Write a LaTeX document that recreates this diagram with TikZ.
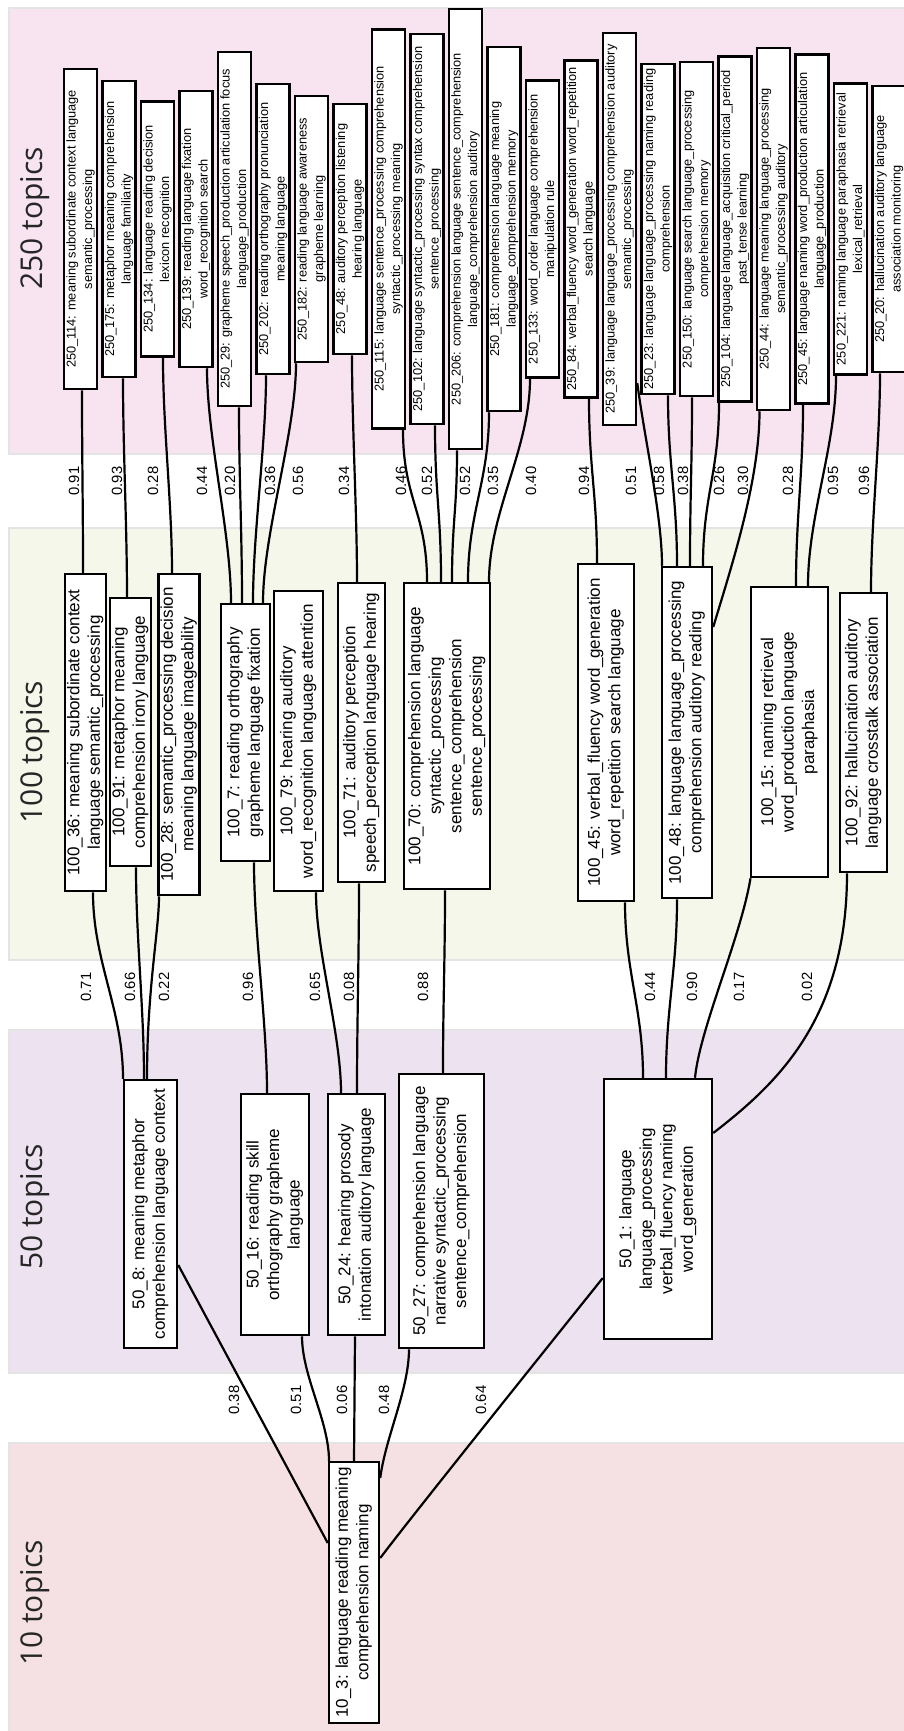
\documentclass[tikz,border=0pt]{standalone}
\usepackage{fontspec}
\setmainfont{Liberation Sans}
\newfontfamily\bandfont{Open Sans}
\usepackage{graphicx}
\usetikzlibrary{calc}
\newcommand{\rlines}[1]{\rotatebox{90}{\begin{tabular}{@{}c@{}}#1\end{tabular}}}
\definecolor{bandA}{RGB}{248,228,240}
\definecolor{bandB}{RGB}{244,247,234}
\definecolor{bandC}{RGB}{237,226,240}
\definecolor{bandD}{RGB}{245,225,228}
\definecolor{bandline}{RGB}{228,228,228}
\begin{document}
\begin{tikzpicture}[x=1pt,y=-1pt,
  box/.style={draw=black, fill=white, line width=2.5pt, inner sep=0pt, rectangle},
  t250/.style={box, minimum width=30pt, font=\fontsize{12.8}{16.5}\selectfont},
  t100/.style={box, font=\fontsize{17}{20.5}\selectfont},
  edge/.style={draw=black, line width=2.2pt},
  elabel/.style={rotate=90, font=\fontsize{14.8}{16}\selectfont, inner sep=0pt},
  bandlabel/.style={rotate=90, anchor=base, font=\bandfont\fontsize{30}{34}\selectfont, text=black!85},
  band/.style={draw=bandline, line width=2.5pt}
]
\useasboundingbox (0,0) rectangle (904,1731);
\clip (0,0) rectangle (904,1731);
\fill[white] (0,0) rectangle (904,1731);
% bands
\filldraw[band, fill=bandA] (9,8) rectangle (915,454);
\filldraw[band, fill=bandB] (9,528) rectangle (915,960);
\filldraw[band, fill=bandC] (9,1030) rectangle (915,1373);
\filldraw[band, fill=bandD] (9,1443) rectangle (915,1740);
\node[bandlabel] (L250) at (42,218.5) {250 topics};
\node[bandlabel] (L100) at (42,752) {100 topics};
\node[bandlabel] (L50) at (42,1207) {50 topics};
\node[bandlabel] (L10) at (42,1603) {10 topics};

% 250 level
\node[t250, minimum height=320pt] (a114) at (80.5,229) {\rlines{250\_114: meaning subordinate context language\\semantic\_processing}};
\node[t250, minimum height=296pt] (a175) at (119,229) {\rlines{250\_175: metaphor meaning comprehension\\language familiarity}};
\node[t250, minimum height=255pt] (a134) at (157.5,229) {\rlines{250\_134: language reading decision\\lexicon recognition}};
\node[t250, minimum height=276pt] (a139) at (196,229) {\rlines{250\_139: reading language fixation\\word\_recognition search}};
\node[t250, minimum height=354pt] (a29) at (234.5,229) {\rlines{250\_29: grapheme speech\_production articulation focus\\language\_production}};
\node[t250, minimum height=290pt] (a202) at (273,229) {\rlines{250\_202: reading orthography pronunciation\\meaning language}};
\node[t250, minimum height=266pt] (a182) at (311.5,229) {\rlines{250\_182: reading language awareness\\grapheme learning}};
\node[t250, minimum height=250pt] (a48) at (350,229) {\rlines{250\_48: auditory perception listening\\hearing language}};
\node[t250, minimum height=399pt] (a115) at (388.5,229) {\rlines{250\_115: language sentence\_processing comprehension\\syntactic\_processing meaning}};
\node[t250, minimum height=390pt] (a102) at (427,229) {\rlines{250\_102: language syntactic\_processing syntax comprehension\\sentence\_processing}};
\node[t250, minimum height=440pt] (a206) at (465.5,229) {\rlines{250\_206: comprehension language sentence\_comprehension\\language\_comprehension auditory}};
\node[t250, minimum height=364pt] (a181) at (504,229) {\rlines{250\_181: comprehension language meaning\\language\_comprehension memory}};
\node[t250, minimum height=297pt] (a133) at (542.5,229) {\rlines{250\_133: word\_order language comprehension\\manipulation rule}};
\node[t250, minimum height=337pt] (a84) at (581,229) {\rlines{250\_84: verbal\_fluency word\_generation word\_repetition\\search language}};
\node[t250, minimum height=392pt] (a39) at (619.5,229) {\rlines{250\_39: language language\_processing comprehension auditory\\semantic\_processing}};
\node[t250, minimum height=330pt] (a23) at (658,229) {\rlines{250\_23: language language\_processing naming reading\\comprehension}};
\node[t250, minimum height=334pt] (a150) at (696.5,229) {\rlines{250\_150: language search language\_processing\\comprehension memory}};
\node[t250, minimum height=345pt] (a104) at (735,229) {\rlines{250\_104: language language\_acquisition critical\_period\\past\_tense learning}};
\node[t250, minimum height=362pt] (a44) at (773.5,229) {\rlines{250\_44: language meaning language\_processing\\semantic\_processing auditory}};
\node[t250, minimum height=349pt] (a45) at (812,229) {\rlines{250\_45: language naming word\_production articulation\\language\_production}};
\node[t250, minimum height=291pt] (a221) at (850.5,229) {\rlines{250\_221: naming language paraphasia retrieval\\lexical\_retrieval}};
\node[t250, minimum height=286pt] (a20) at (889,229) {\rlines{250\_20: hallucination auditory language\\association monitoring}};

% 100 level
\node[t100, minimum width=41pt, minimum height=317pt] (b36) at (85.5,732.5) {\rlines{100\_36: meaning subordinate context\\language semantic\_processing}};
\node[t100, minimum width=41pt, minimum height=268pt] (b91) at (130.5,732) {\rlines{100\_91: metaphor meaning\\comprehension irony language}};
\node[t100, minimum width=40pt, minimum height=321pt] (b28) at (179,734.5) {\rlines{100\_28: semantic\_processing decision\\meaning language imageability}};
\node[t100, minimum width=49pt, minimum height=257pt] (b7) at (245.5,732.5) {\rlines{100\_7: reading orthography\\grapheme language fixation}};
\node[t100, minimum width=49pt, minimum height=300pt] (b79) at (298.5,741) {\rlines{100\_79: hearing auditory\\word\_recognition language attention}};
\node[t100, minimum width=47pt, minimum height=299pt] (b71) at (361.5,732.5) {\rlines{100\_71: auditory perception\\speech\_perception language hearing}};
\node[t100, minimum width=86pt, minimum height=306pt] (b70) at (447,736) {\rlines{100\_70: comprehension language\\syntactic\_processing\\sentence\_comprehension\\sentence\_processing}};
\node[t100, minimum width=56pt, minimum height=337pt] (b45) at (606,732.5) {\rlines{100\_45: verbal\_fluency word\_generation\\word\_repetition search language}};
\node[t100, minimum width=50pt, minimum height=331pt] (b48) at (687,732.5) {\rlines{100\_48: language language\_processing\\comprehension auditory reading}};
\node[t100, minimum width=77pt, minimum height=290pt] (b15) at (789.5,732) {\rlines{100\_15: naming retrieval\\word\_production language\\paraphasia}};
\node[t100, minimum width=47pt, minimum height=279pt] (b92) at (863.5,732.5) {\rlines{100\_92: hallucination auditory\\language crosstalk association}};

% 50 level
\node[t100, minimum width=53pt, minimum height=268pt] (c8) at (150.5,1214) {\rlines{50\_8: meaning metaphor\\comprehension language context}};
\node[t100, minimum width=68pt, minimum height=241pt] (c16) at (275,1214.5) {\rlines{50\_16: reading skill\\orthography grapheme\\language}};
\node[t100, minimum width=57pt, minimum height=241pt] (c24) at (356.5,1214.5) {\rlines{50\_24: hearing prosody\\intonation auditory language}};
\node[t100, minimum width=85pt, minimum height=274pt] (c27) at (441.5,1211) {\rlines{50\_27: comprehension language\\narrative syntactic\_processing\\sentence\_comprehension}};
\node[t100, minimum width=108pt, minimum height=260pt] (c1) at (658,1209) {\rlines{50\_1: language\\language\_processing\\verbal\_fluency naming\\word\_generation}};

% 10 level
\node[t100, minimum width=50pt, minimum height=261pt] (d3) at (354,1592.5) {\rlines{10\_3: language reading meaning\\comprehension naming}};

% edges 250 -> 100
\draw[edge] ($(a114.south)+(1.5,0)$) .. controls +(0,70) and +(0,-70) .. ($(b36.north)+(-2.5,0)$);
\draw[edge] ($(a175.south)+(4,0)$) .. controls +(0,70) and +(0,-70) .. ($(b91.north)+(-3.5,0)$);
\draw[edge] ($(a134.south)+(5.5,0)$) .. controls +(0,70) and +(0,-70) .. ($(b28.north)+(-7,0)$);
\draw[edge] ($(a139.south)+(11,0)$) .. controls +(0,70) and +(0,-70) .. ($(b7.north)+(-14.5,0)$);
\draw[edge] ($(a29.south)+(4.5,0)$) .. controls +(0,70) and +(0,-70) .. ($(b7.north)+(-3.5,0)$);
\draw[edge] ($(a202.south)+(-7,0)$) .. controls +(0,70) and +(0,-70) .. ($(b7.north)+(7.5,0)$);
\draw[edge] ($(a182.south)+(-15.5,0)$) .. controls +(0,70) and +(0,-70) .. ($(b7.north)+(17.5,0)$);
\draw[edge] ($(a48.south)+(2,0)$) .. controls +(0,70) and +(0,-70) .. ($(b71.north)+(-4.5,0)$);
\draw[edge] ($(a115.south)+(14.5,0)$) .. controls +(0,70) and +(0,-70) .. ($(b70.north)+(-20,0)$);
\draw[edge] ($(a102.south)+(8,0)$) .. controls +(0,70) and +(0,-70) .. ($(b70.north)+(-6,0)$);
\draw[edge] ($(a206.south)+(-8.5,0)$) .. controls +(0,60) and +(0,-60) .. ($(b70.north)+(5,0)$);
\draw[edge] ($(a181.south)+(-15,0)$) .. controls +(0,70) and +(0,-70) .. ($(b70.north)+(21,0)$);
\draw[edge] ($(a133.south)+(-12.5,0)$) .. controls +(0,70) and +(0,-70) .. ($(b70.north)+(42,0)$);
\draw[edge] ($(a84.south)+(8,0)$) .. controls +(0,70) and +(0,-70) .. ($(b45.north)+(-9,0)$);
\draw[edge] ($(a39.east)+(0,154)$) .. controls +(8,60) and +(0,-50) .. ($(b48.north)+(-25,0)$);
\draw[edge] ($(a23.south)+(10,0)$) .. controls +(0,70) and +(0,-70) .. ($(b48.north)+(-10,0)$);
\draw[edge] ($(a150.south)+(-4.5,0)$) .. controls +(0,70) and +(0,-70) .. ($(b48.north)+(3,0)$);
\draw[edge] ($(a104.south)+(-16,0)$) .. controls +(0,70) and +(0,-70) .. ($(b48.north)+(16,0)$);
\draw[edge] ($(a44.south)+(-14,0)$) .. controls +(0,70) and +(18,-60) .. ($(b48.east)+(0,-105.5)$);
\draw[edge] ($(a45.south)+(-9,0)$) .. controls +(0,70) and +(0,-70) .. ($(b15.north)+(6.5,0)$);
\draw[edge] ($(a221.south)+(-14.5,0)$) .. controls +(0,70) and +(0,-70) .. ($(b15.north)+(18.5,0)$);
\draw[edge] ($(a20.south)+(-9,0)$) .. controls +(0,70) and +(0,-70) .. ($(b92.north)+(7.5,0)$);

% edges 100 -> 50
\draw[edge] ($(b36.south)+(7.5,0)$) .. controls +(0,70) and +(0,-70) .. ($(c8.north)+(-27.5,0)$);
\draw[edge] ($(b91.south)+(5.5,0)$) .. controls +(0,70) and +(0,-70) .. ($(c8.north)+(-6.5,0)$);
\draw[edge] ($(b28.south)+(-20,0)$) .. controls +(0,35) and +(0,-90) .. ($(c8.north)+(-3.5,0)$);
\draw[edge] ($(b7.south)+(8.5,0)$) .. controls +(0,70) and +(0,-70) .. ($(c16.north)+(-8,0)$);
\draw[edge] ($(b79.south)+(17.5,0)$) .. controls +(0,60) and +(0,-60) .. ($(c24.north)+(-15.5,0)$);
\draw[edge] ($(b71.south)+(-2.5,0)$) .. controls +(0,70) and +(0,-70) .. ($(c24.north)+(0.5,0)$);
\draw[edge] ($(b70.south)+(-2,0)$) .. controls +(0,70) and +(0,-70) .. ($(c27.north)+(1.5,0)$);
\draw[edge] ($(b45.south)+(19,0)$) .. controls +(0,70) and +(0,-70) .. ($(c1.north)+(-15,0)$);
\draw[edge] ($(b48.south)+(-10,0)$) .. controls +(0,70) and +(0,-70) .. ($(c1.north)+(8,0)$);
\draw[edge] ($(b15.south)+(-39,0)$) .. controls +(-10,60) and +(5,-50) .. ($(c1.north)+(37,0)$);
\draw[edge] ($(b92.south)+(-16.5,0)$) .. controls +(0,147) and +(62,-48) .. ($(c1.east)+(0,-76)$);

% edges 50 -> 10
\draw[edge] ($(c8.east)+(0,51)$) -- ($(d3.west)+(0,-49.5)$);
\draw[edge] ($(c16.south)+(27,0)$) .. controls +(0,40) and +(0,-40) .. ($(d3.north)+(-25,0)$);
\draw[edge] ($(c24.south)+(-1.5,0)$) -- (d3.north);
\draw[edge] ($(c27.south)+(-32.5,0)$) .. controls +(0,40) and +(5,-40) .. ($(d3.east)+(0,-114.5)$);
\draw[edge] ($(c1.west)+(0,69)$) .. controls +(-40,50) and +(30,-40) .. ($(d3.east)+(0,-34.5)$);

% edge labels 250 -> 100
\node[elabel] (l1) at (74,481) {0.91};
\node[elabel] (l2) at (117,481) {0.93};
\node[elabel] (l3) at (153,481) {0.28};
\node[elabel] (l4) at (202,481) {0.44};
\node[elabel] (l5) at (230,481) {0.20};
\node[elabel] (l6) at (270,481) {0.36};
\node[elabel] (l7) at (298,481) {0.56};
\node[elabel] (l8) at (344,481) {0.34};
\node[elabel] (l9) at (401,481) {0.46};
\node[elabel] (l10) at (427,481) {0.52};
\node[elabel] (l11) at (465,481) {0.52};
\node[elabel] (l12) at (493,481) {0.35};
\node[elabel] (l13) at (531,481) {0.40};
\node[elabel] (l14) at (584,481) {0.94};
\node[elabel] (l15) at (631,481) {0.51};
\node[elabel] (l16) at (659,481) {0.58};
\node[elabel] (l17) at (683,481) {0.38};
\node[elabel] (l18) at (719,481) {0.26};
\node[elabel] (l19) at (743,481) {0.30};
\node[elabel] (l20) at (788,481) {0.28};
\node[elabel] (l21) at (833,481) {0.95};
\node[elabel] (l22) at (864,481) {0.96};
% edge labels 100 -> 50
\node[elabel] (m1) at (86,987) {0.71};
\node[elabel] (m2) at (130,987) {0.66};
\node[elabel] (m3) at (164,987) {0.22};
\node[elabel] (m4) at (248,987) {0.96};
\node[elabel] (m5) at (315,987) {0.65};
\node[elabel] (m6) at (349,987) {0.08};
\node[elabel] (m7) at (423,987) {0.88};
\node[elabel] (m8) at (650,987) {0.44};
\node[elabel] (m9) at (692,987) {0.90};
\node[elabel] (m10) at (739,987) {0.17};
\node[elabel] (m11) at (807,987) {0.02};
% edge labels 50 -> 10
\node[elabel] (n1) at (234,1400) {0.38};
\node[elabel] (n2) at (296,1400) {0.51};
\node[elabel] (n3) at (342,1400) {0.06};
\node[elabel] (n4) at (384,1400) {0.48};
\node[elabel] (n5) at (481,1400) {0.64};
\end{tikzpicture}
\end{document}
